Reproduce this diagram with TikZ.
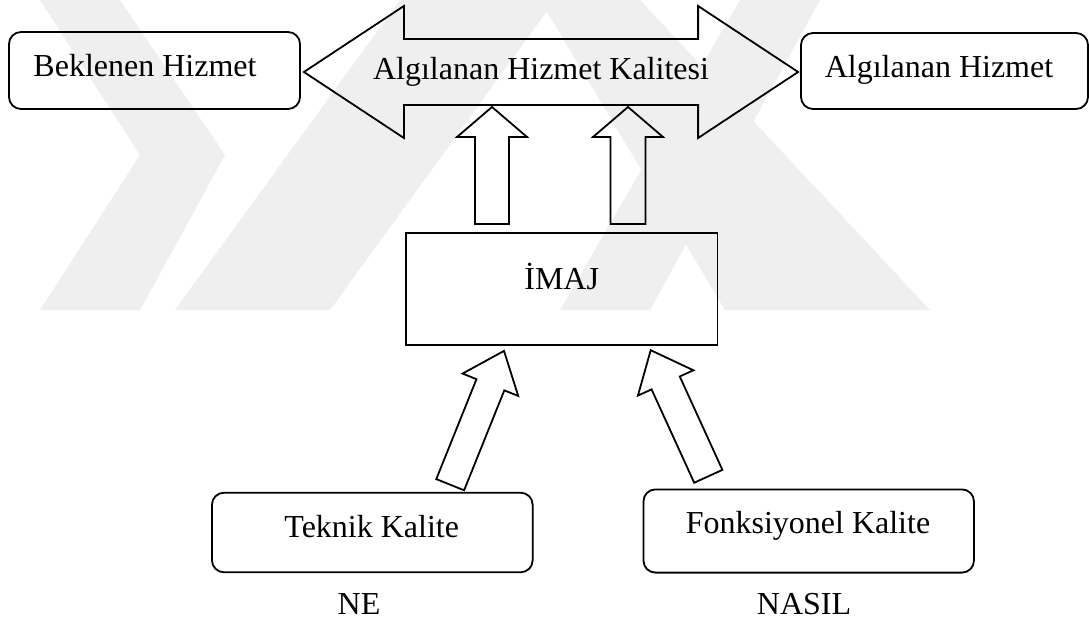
\documentclass[tikz,border=0pt]{standalone}
\usepackage{fontspec}
\setmainfont{Liberation Serif}
\usetikzlibrary{calc}

\definecolor{wmark}{RGB}{239,239,239}

\tikzset{
  box/.style={draw, line width=1.8pt, inner sep=0pt},
  rbox/.style={box, rounded corners=12pt},
  blk/.style={draw, line width=1.8pt, line join=miter},
  lbl/.style={anchor=base, inner sep=0pt, font=\fontsize{32}{38}\selectfont},
  wm/.style={fill=wmark, draw=none},
}

% block arrow from #1 to #2: shaft half width #3, head half width #4, head length #5
\newcommand\blockarr[5]{%
  \coordinate (bah) at ($(#2)!#5!(#1)$);
  \draw[blk] ($(#1)!#3!90:(#2)$) -- ($(bah)!#3!90:(#2)$) -- ($(bah)!#4!90:(#2)$) -- (#2)
    -- ($(bah)!#4!-90:(#2)$) -- ($(bah)!#3!-90:(#2)$) -- ($(#1)!#3!-90:(#2)$) -- cycle;}

% double-headed block arrow between #1 and #2
\newcommand\dblarr[5]{%
  \coordinate (dal) at ($(#1)!#5!(#2)$);
  \coordinate (dar) at ($(#2)!#5!(#1)$);
  \draw[blk] (#1) -- ($(dal)!#4!90:(#2)$) -- ($(dal)!#3!90:(#2)$) -- ($(dar)!#3!-90:(#1)$)
    -- ($(dar)!#4!-90:(#1)$) -- (#2) -- ($(dar)!#4!90:(#1)$) -- ($(dar)!#3!90:(#1)$)
    -- ($(dal)!#3!-90:(#2)$) -- ($(dal)!#4!-90:(#2)$) -- cycle;}

\begin{document}
\begin{tikzpicture}[x=1pt,y=-1pt]
\useasboundingbox (0,0) rectangle (1089,620);
\fill[white] (0,0) rectangle (1089,620);

% faint background chevrons
\fill[wm] (40,0) -- (120,0) -- (225,155) -- (140,310) -- (40,310) -- (140,155) -- cycle;
\fill[wm] (175,310) -- (330,310) -- (555,0) -- (400,0) -- cycle;
\fill[wm] (560,310) -- (650,310) -- (820,0) -- (740,0) -- cycle;
\fill[wm] (540,0) -- (640,0) -- (930,310) -- (725,310) -- cycle;

% boxes
\node[rbox, minimum width=291pt, minimum height=77pt] (bek) at (154.5,70.5) {};
\node[rbox, minimum width=287pt, minimum height=76pt] (alg) at (944.5,71) {};
\node[box, minimum width=311.5pt, minimum height=112pt] (imaj) at (561.7,289) {};
\node[rbox, minimum width=320.7pt, minimum height=79.6pt] (tek) at (372.3,532.5) {};
\node[rbox, minimum width=330.5pt, minimum height=83.2pt] (fonk) at (808.7,531) {};

% texts
\node[lbl] (bek-t) at (145,77) {Beklenen Hizmet};
\node[lbl] (alg-t) at (939,77.7) {Algılanan Hizmet};
\node[lbl] (imaj-t) at (561.7,290) {İMAJ};
\node[lbl] (tek-t) at (371.7,537) {Teknik Kalite};
\node[lbl] (fonk-t) at (808,533.3) {Fonksiyonel Kalite};
\node[lbl] (ne) at (359,614) {NE};
\node[lbl] (nasil) at (804,614) {NASIL};

% perceived quality: double arrow between the two service boxes
\coordinate (qL) at ($(bek.east)+(3,1.5)$);
\coordinate (qR) at ($(alg.west)+(-2,1)$);
\coordinate (qM) at ($(qL)!0.5!(qR)$);
\dblarr{qL}{qR}{33pt}{66pt}{100pt}
\node[lbl] (q-t) at (541,80) {Algılanan Hizmet Kalitesi};

% image feeds perceived quality
\coordinate (u1s) at ($(imaj.north)+(-69.7,-8)$);
\coordinate (u2s) at ($(imaj.north)+(66.3,-8)$);
\coordinate (u1e) at ($(u1s |- qM)+(0,35)$);
\coordinate (u2e) at ($(u2s |- qM)+(0,35)$);
\blockarr{u1s}{u1e}{17pt}{35pt}{30pt}
\blockarr{u2s}{u2e}{17.5pt}{35pt}{30pt}

% technical and functional quality feed the image
\coordinate (s1s) at ($(tek.north)+(77.9,-7.1)$);
\coordinate (s1e) at ($(imaj.south)+(-57.7,5)$);
\blockarr{s1s}{s1e}{15pt}{30pt}{36.5pt}
\coordinate (s2s) at ($(fonk.north)+(-100.4,-12.2)$);
\coordinate (s2e) at ($(imaj.south)+(89,4.3)$);
\blockarr{s2s}{s2e}{15.5pt}{30.5pt}{36pt}
\end{tikzpicture}
\end{document}
